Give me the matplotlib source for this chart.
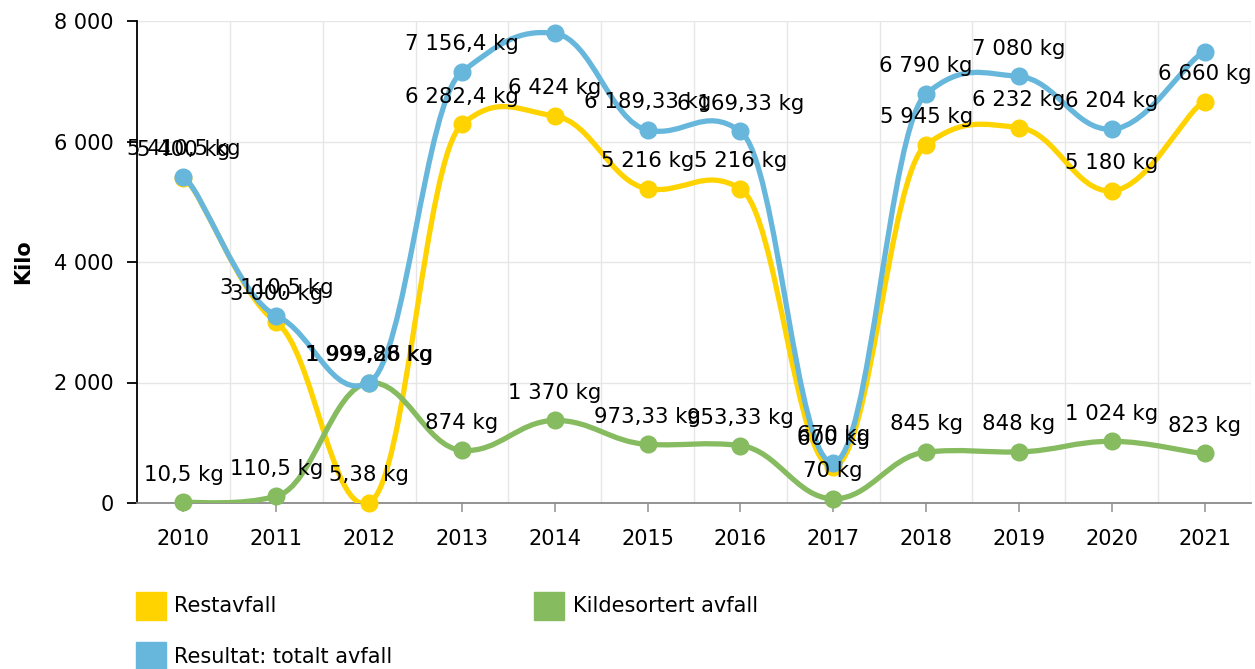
import numpy as np
import matplotlib.pyplot as plt
from matplotlib.path import Path
from matplotlib.patches import PathPatch, Patch

years = ['2010', '2011', '2012', '2013', '2014', '2015', '2016', '2017', '2018', '2019', '2020', '2021']
restavfall = [5400, 3000, 5.38, 6282.4, 6424, 5216, 5216, 600, 5945, 6232, 5180, 6660]
kildesortert = [10.5, 110.5, 1993.88, 874, 1370, 973.33, 953.33, 70, 845, 848, 1024, 823]
totalt = [5410.5, 3110.5, 1999.26, 7156.4, 7794, 6189.33, 6169.33, 670, 6790, 7080, 6204, 7483]
y_ticks = [0, 2000, 4000, 6000, 8000]

series = [
    ('Restavfall', restavfall, '#FFD300'),
    ('Kildesortert avfall', kildesortert, '#86BB60'),
    ('Resultat: totalt avfall', totalt, '#67B7DC'),
]


def fmt(v):
    s = f"{v:,.2f}".rstrip('0').rstrip('.')
    return s.replace(',', ' ').replace('.', ',') + ' kg'


def spline_path(xs, ys, kx=0.2, ky=0.08):
    # tension smoothing, separate x / y tension
    n = len(xs)
    pts = list(zip(xs, ys))
    verts = [pts[0]]
    codes = [Path.MOVETO]
    for i in range(1, n):
        p0 = pts[max(i - 2, 0)]
        p1 = pts[i - 1]
        p2 = pts[i]
        p3 = pts[min(i + 1, n - 1)]
        c1 = (p1[0] + kx * (p2[0] - p0[0]), p1[1] + ky * (p2[1] - p0[1]))
        c2 = (p2[0] - kx * (p3[0] - p1[0]), p2[1] - ky * (p3[1] - p1[1]))
        verts += [c1, c2, p2]
        codes += [Path.CURVE4] * 3
    return Path(verts, codes)


plt.rcParams['font.family'] = ['DejaVu Sans']
fig = plt.figure(figsize=(12.55, 6.69), dpi=100)
ax = fig.add_axes([137 / 1255, 1 - 503 / 669, (1251 - 137) / 1255, (503 - 21) / 669])

x = np.arange(len(years))
labels = []
for z, (name, vals, col) in enumerate(series):
    p = spline_path(list(x), list(vals))
    ax.add_patch(PathPatch(p, fill=False, edgecolor=col, lw=3.8, zorder=3 + z,
                           capstyle='round', joinstyle='round'))
    ax.plot(x, vals, 'o', color=col, ms=12, zorder=3 + z, clip_on=False)
    for xi, v in zip(x, vals):
        t = ax.annotate(fmt(v), (xi, v), xytext=(0, 20), textcoords='offset points',
                        ha='center', va='center', fontsize=15.3, color='black',
                        zorder=10, annotation_clip=False)
        labels.append(t)

ax.set_xlim(-0.5, len(years) - 0.5)
ax.set_ylim(0, 8000)
ax.set_xticks(x)
ax.set_xticklabels(years)
ax.set_yticks(y_ticks)
ax.set_yticklabels([f"{v:,}".replace(',', ' ') for v in y_ticks])
for v in y_ticks[1:]:
    ax.axhline(v, color='#e6e6e6', lw=1, zorder=1)
for v in np.arange(0.5, len(years), 1):
    ax.axvline(v, color='#e6e6e6', lw=1, zorder=1)

for s in ['top', 'right']:
    ax.spines[s].set_visible(False)
ax.spines['left'].set_color('black')
ax.spines['left'].set_linewidth(1.3)
ax.spines['bottom'].set_color('#8a8a8a')
ax.spines['bottom'].set_linewidth(1.3)
ax.tick_params(axis='y', length=7, width=1.3, color='black', pad=10, labelsize=15)
ax.tick_params(axis='x', length=6.5, width=1.3, color='#a0a0a0', pad=12, labelsize=15)
ax.set_ylabel('Kilo', fontsize=15, fontweight='bold', labelpad=15)

handles = [Patch(color=series[0][2], label=series[0][0]),
           Patch(color=series[2][2], label=series[2][0]),
           Patch(color=series[1][2], label=series[1][0])]
fig.legend(handles=handles, ncol=2, loc='upper left', bbox_to_anchor=(121 / 1255, 1 - 577 / 669),
           frameon=False, fontsize=15, handlelength=1.45, handleheight=1.69,
           handletextpad=0.4, columnspacing=6.8, labelspacing=1.1, borderpad=0.2)

# hide data labels that poke out above the plot area
fig.canvas.draw()
r = fig.canvas.get_renderer()
top = ax.get_window_extent(r).y1
for t in labels:
    if t.get_window_extent(r).y1 > top + 1:
        t.remove()

fig.savefig('out.png', dpi=100)
